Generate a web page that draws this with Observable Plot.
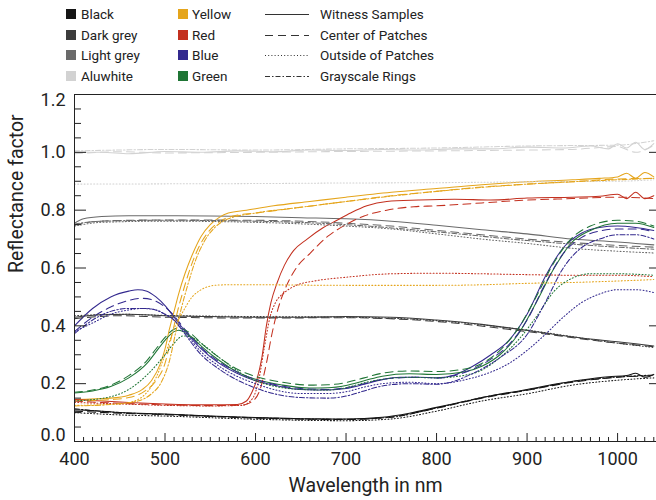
<!DOCTYPE html>
<html><head><meta charset="utf-8">
<script src="https://cdn.jsdelivr.net/npm/d3@7"></script>
<script src="https://cdn.jsdelivr.net/npm/@observablehq/plot@0.6"></script>
<style>
body{margin:0;background:#fff;font-family:Roboto,sans-serif;}
#legend{position:relative;width:656px;height:88px;font-size:13.5px;color:#222;}
.item{position:absolute;height:20px;line-height:20px;white-space:nowrap;}
.sw{display:inline-block;position:absolute;left:0;top:5px;width:10px;height:10px;}
.lab{position:absolute;top:0;}
</style></head><body>
<div id="legend"></div><div id="chart"></div>
<script>
// ---- legend / categories ----
const colorNames = ["Black","Dark grey","Light grey","Aluwhite","Yellow","Red","Blue","Green"];
const colorValues = ["#151515","#3c3c3c","#6a6a6a","#d2d2d2","#e5a51c","#c3301f","#33298e","#1f7535"];
const styleNames = ["Witness Samples","Center of Patches","Outside of Patches","Grayscale Rings"];
const styleDash = [null,"8,5","1,2.2","5,2,1.5,2"];

// ---- axis ticks ----
const xMajor = [400,500,600,700,800,900,1000];
const xMinor = d3.range(410,1041,10).filter(v => v % 100 !== 0);
const yMajor = [0,0.2,0.4,0.6,0.8,1.0,1.2];
const yMinor = [0.05,0.1,0.15,0.25,0.3,0.35,0.45,0.5,0.55,0.65,0.7,0.75,0.85,0.9,0.95,1.05,1.1,1.15];

// ---- series values: [wavelength nm, reflectance] ----
const blackWS = [[400,.11],[420,.107],[450,.10],[500,.095],[550,.088],[600,.083],[650,.079],[700,.078],[740,.084],[770,.098],[800,.118],[830,.138],[860,.158],[900,.18],[930,.198],[960,.213],[990,.224],[1010,.228],[1020,.236],[1030,.222],[1040,.232]];
const blackCP = [[400,.105],[450,.098],[500,.093],[600,.081],[700,.076],[750,.085],[800,.115],[850,.15],[900,.177],[950,.205],[1000,.222],[1040,.228]];
const blackOP = [[400,.10],[450,.092],[500,.088],[600,.077],[700,.072],[750,.078],[800,.105],[850,.14],[900,.165],[950,.195],[1000,.212],[1040,.22]];
const blackGR = [[400,.113],[450,.10],[500,.094],[600,.082],[700,.077],[750,.084],[800,.116],[850,.152],[900,.178],[950,.207],[1000,.223],[1040,.23]];

const dgreyWS = [[400,.43],[430,.438],[460,.44],[500,.435],[550,.432],[600,.43],[650,.43],[700,.432],[750,.43],[800,.42],[850,.405],[880,.393],[920,.375],[960,.358],[1000,.345],[1020,.338],[1040,.33]];
const dgreyCP = [[400,.425],[450,.435],[500,.43],[600,.427],[700,.428],[800,.415],[900,.38],[1000,.34],[1040,.328]];
const dgreyOP = [[400,.435],[450,.44],[500,.436],[600,.432],[700,.43],[800,.418],[900,.385],[1000,.34],[1040,.325]];

const lgreyWS = [[400,.755],[410,.77],[430,.778],[460,.781],[500,.781],[550,.78],[600,.778],[650,.774],[700,.77],[750,.762],[800,.748],[850,.732],[900,.718],[950,.70],[1000,.69],[1020,.685],[1040,.68]];
const lgreyCP = [[400,.748],[420,.76],[460,.765],[500,.766],[600,.765],[700,.755],[750,.745],[800,.73],[850,.715],[900,.70],[950,.688],[1000,.678],[1040,.672]];
const lgreyOP = [[400,.745],[430,.758],[500,.762],[600,.758],[700,.745],[750,.735],[800,.718],[850,.70],[900,.685],[950,.668],[1000,.658],[1040,.652]];
const lgreyGR = [[400,.752],[430,.762],[500,.765],[600,.762],[700,.75],[800,.725],[900,.695],[1000,.672],[1040,.665]];

const aluWS = [[400,1.0],[430,1.0],[460,.995],[500,1.003],[540,1.0],[580,1.005],[620,1.002],[660,1.008],[700,1.006],[740,1.01],[780,1.008],[820,1.012],[860,1.012],[900,1.018],[940,1.015],[970,1.022],[990,1.012],[1000,1.03],[1010,1.015],[1020,1.035],[1030,1.01],[1040,1.03]];
const aluCP = [[400,.995],[450,1.002],[500,.998],[600,1.0],[700,1.003],[800,1.005],[900,1.008],[950,1.01],[1000,1.02],[1020,1.0],[1040,1.025]];
const aluOP = [[400,.89],[500,.891],[600,.892],[700,.894],[800,.895],[900,.898],[1000,.90],[1040,.905]];
const aluGR = [[400,1.005],[450,1.008],[500,1.01],[600,1.008],[700,1.012],[800,1.015],[900,1.022],[1000,1.025],[1040,1.04]];

const yellowWS = [[400,.145],[440,.15],[460,.16],[475,.18],[485,.21],[495,.27],[500,.32],[505,.39],[510,.45],[515,.51],[522,.58],[530,.645],[540,.71],[550,.75],[560,.775],[570,.79],[590,.80],[620,.815],[660,.83],[700,.845],[750,.862],[800,.875],[850,.888],[900,.898],[950,.905],[980,.91],[1000,.915],[1010,.928],[1020,.91],[1030,.93],[1040,.915]];
const yellowCP = [[400,.14],[440,.145],[460,.152],[478,.175],[490,.21],[500,.27],[507,.36],[513,.44],[520,.52],[528,.6],[537,.67],[548,.725],[560,.76],[575,.78],[600,.79],[650,.81],[700,.83],[750,.85],[800,.865],[850,.88],[900,.89],[950,.898],[1000,.908],[1040,.91]];
const yellowOP = [[400,.125],[450,.13],[470,.145],[490,.22],[500,.3],[510,.39],[520,.45],[530,.5],[540,.525],[555,.54],[570,.542],[600,.542],[700,.54],[800,.54],[850,.542],[900,.547],[950,.55],[1000,.555],[1040,.56]];
const yellowGR = [[400,.123],[440,.128],[470,.14],[485,.165],[495,.2],[505,.28],[512,.38],[518,.46],[525,.54],[533,.62],[543,.69],[555,.74],[570,.77],[600,.79],[650,.81],[700,.83],[800,.865],[900,.89],[1000,.905],[1040,.91]];

const redWS = [[400,.145],[430,.14],[460,.135],[500,.13],[550,.127],[580,.128],[590,.14],[596,.17],[602,.22],[607,.29],[612,.4],[617,.48],[624,.55],[632,.61],[642,.66],[657,.70],[675,.74],[690,.765],[705,.79],[723,.815],[745,.83],[780,.835],[820,.838],[860,.835],[900,.842],[950,.845],[980,.848],[1000,.855],[1010,.84],[1020,.862],[1030,.84],[1040,.85]];
const redCP = [[400,.14],[450,.132],[500,.127],[550,.124],[585,.126],[597,.14],[605,.18],[612,.27],[618,.37],[625,.46],[633,.53],[645,.6],[660,.65],[680,.71],[700,.75],[720,.78],[745,.8],[775,.812],[800,.815],[850,.825],[900,.835],[950,.84],[1000,.845],[1040,.84]];
const redOP = [[400,.135],[450,.13],[500,.125],[550,.123],[585,.125],[597,.15],[604,.22],[610,.33],[616,.43],[622,.48],[632,.515],[645,.54],[665,.555],[700,.568],[750,.58],[800,.582],[850,.58],[900,.577],[950,.575],[1000,.575],[1040,.57]];

const blueWS = [[400,.40],[420,.46],[440,.50],[460,.52],[470,.525],[480,.52],[490,.50],[500,.47],[510,.43],[520,.39],[540,.32],[560,.27],[580,.235],[600,.21],[620,.195],[650,.18],[680,.178],[700,.183],[720,.198],[740,.214],[760,.222],[780,.222],[800,.22],[820,.23],[840,.26],[860,.30],[880,.35],[900,.44],[920,.57],[940,.67],[960,.72],[980,.74],[1000,.745],[1020,.74],[1040,.73]];
const blueCP = [[400,.38],[420,.43],[440,.465],[460,.488],[475,.495],[490,.485],[500,.465],[510,.435],[520,.395],[540,.325],[560,.275],[580,.24],[600,.215],[620,.198],[650,.183],[680,.18],[700,.186],[720,.2],[740,.215],[780,.222],[800,.22],[820,.228],[840,.25],[860,.285],[880,.335],[900,.42],[920,.545],[940,.65],[960,.705],[980,.728],[1000,.735],[1020,.735],[1040,.725]];
const blueOP = [[400,.38],[420,.41],[440,.44],[460,.455],[475,.46],[490,.455],[500,.44],[510,.42],[520,.385],[540,.31],[560,.26],[600,.20],[650,.166],[680,.166],[700,.172],[720,.188],[740,.2],[770,.205],[800,.20],[840,.22],[860,.24],[880,.27],[900,.315],[920,.37],[940,.43],[960,.48],[980,.51],[1000,.525],[1020,.525],[1040,.515]];
const blueGR = [[400,.373],[420,.42],[440,.45],[460,.46],[480,.46],[500,.44],[510,.42],[520,.38],[540,.30],[560,.25],[600,.185],[650,.152],[680,.15],[700,.157],[720,.175],[740,.192],[770,.2],[800,.198],[840,.235],[870,.29],[900,.37],[920,.48],[940,.60],[960,.67],[980,.70],[1000,.715],[1020,.715],[1040,.70]];

const greenWS = [[400,.168],[420,.175],[440,.19],[460,.22],[480,.27],[490,.31],[500,.35],[510,.38],[515,.385],[520,.38],[530,.36],[540,.33],[560,.28],[580,.24],[600,.215],[630,.195],[660,.185],[680,.186],[700,.194],[720,.21],[740,.226],[770,.234],[800,.232],[830,.24],[850,.26],[870,.30],[890,.37],[910,.48],[930,.60],[950,.69],[970,.73],[1000,.755],[1020,.755],[1040,.74]];
const greenCP = [[400,.17],[420,.178],[440,.195],[460,.228],[480,.28],[490,.32],[500,.36],[510,.388],[515,.392],[520,.388],[530,.37],[540,.34],[560,.29],[580,.25],[600,.225],[630,.205],[660,.195],[680,.196],[700,.204],[720,.22],[740,.236],[770,.244],[800,.242],[830,.25],[850,.27],[870,.315],[890,.39],[910,.50],[930,.62],[950,.705],[970,.745],[1000,.765],[1020,.762],[1040,.745]];
const greenOP = [[400,.14],[440,.155],[460,.18],[480,.23],[500,.30],[510,.34],[520,.365],[530,.36],[540,.34],[560,.29],[600,.21],[650,.18],[680,.178],[700,.186],[720,.203],[740,.215],[770,.222],[800,.22],[840,.235],[870,.29],[890,.35],[910,.43],[930,.52],[950,.565],[970,.58],[1000,.58],[1040,.575]];

const seriesList = [
  ["Black",0,blackWS],["Black",1,blackCP],["Black",2,blackOP],["Black",3,blackGR],
  ["Dark grey",0,dgreyWS],["Dark grey",1,dgreyCP],["Dark grey",2,dgreyOP],
  ["Light grey",0,lgreyWS],["Light grey",1,lgreyCP],["Light grey",2,lgreyOP],["Light grey",3,lgreyGR],
  ["Aluwhite",0,aluWS],["Aluwhite",1,aluCP],["Aluwhite",2,aluOP],["Aluwhite",3,aluGR],
  ["Yellow",0,yellowWS],["Yellow",1,yellowCP],["Yellow",2,yellowOP],["Yellow",3,yellowGR],
  ["Red",0,redWS],["Red",1,redCP],["Red",2,redOP],
  ["Blue",0,blueWS],["Blue",1,blueCP],["Blue",2,blueOP],["Blue",3,blueGR],
  ["Green",0,greenWS],["Green",1,greenCP],["Green",2,greenOP]
];

const rows = seriesList.flatMap(([c, s, pts], i) => pts.map(([w, v]) => ({w, v, c, s, id: i})));

// ---- legend (HTML) ----
const leg = document.getElementById("legend");
const colX = [66, 178];
colorNames.forEach((n, i) => {
  const col = Math.floor(i / 4), row = i % 4;
  const d = document.createElement("div");
  d.className = "item";
  d.style.left = colX[col] + "px";
  d.style.top = (4 + row * 20.7) + "px";
  d.innerHTML = `<span class="sw" style="background:${colorValues[i]}"></span><span class="lab" style="left:${col ? 14 : 15}px">${n}</span>`;
  leg.appendChild(d);
});
styleNames.forEach((n, i) => {
  const d = document.createElement("div");
  d.className = "item";
  d.style.left = "265px";
  d.style.top = (4 + i * 20.7) + "px";
  d.innerHTML = `<svg width="46" height="20" style="position:absolute;left:0;top:0"><line x1="0" x2="44" y1="10.5" y2="10.5" stroke="#333" stroke-width="1" ${styleDash[i] ? `stroke-dasharray="${styleDash[i]}"` : ""}/></svg><span class="lab" style="left:55px">${n}</span>`;
  leg.appendChild(d);
});

// ---- chart ----
const fs = 18;
const chart = Plot.plot({
  width: 656, height: 412,
  marginTop: 6, marginBottom: 59, marginLeft: 74, marginRight: 0,
  style: {fontFamily: "Roboto, sans-serif", color: "#222", background: "#fff", overflow: "visible"},
  x: {domain: [400, 1043]},
  y: {domain: [0, 1.2]},
  color: {domain: colorNames, range: colorValues},
  marks: [
    ...styleDash.map((dash, s) => Plot.line(rows.filter(r => r.s === s), {
      x: "w", y: "v", z: "id", stroke: "c", strokeWidth: 1.05, curve: "monotone-x",
      strokeDasharray: dash ?? undefined
    })),
    Plot.frame({anchor: "left", stroke: "#222"}),
    Plot.frame({anchor: "top", stroke: "#222"}),
    Plot.frame({anchor: "bottom", stroke: "#222"}),
    Plot.axisX(xMinor, {tickSize: -4, tickFormat: () => "", label: null}),
    Plot.axisX(xMajor, {tickSize: -8, tickFormat: () => "", label: null}),
    Plot.axisX(xMajor, {tickSize: 0, tickPadding: 11, fontSize: fs, tickFormat: d => String(d), label: null}),
    Plot.axisY(yMinor, {tickSize: -7, tickFormat: () => "", label: null}),
    Plot.axisY(yMajor, {tickSize: -12, tickFormat: () => "", label: null}),
    Plot.axisY(yMajor, {anchor: "right", tickSize: -8, tickFormat: () => "", label: null}),
    Plot.axisY([0.2,0.4,0.6,0.8,1.0], {tickSize: 0, tickPadding: 9, fontSize: fs, tickFormat: ".1f", label: null}),
    Plot.axisY([1.2], {tickSize: 0, tickPadding: 9, fontSize: fs, tickFormat: ".1f", label: null, dy: 6}),
    Plot.axisY([0], {tickSize: 0, tickPadding: 9, fontSize: fs, tickFormat: ".1f", label: null, dy: -6}),
    Plot.text(["Wavelength in nm"], {text: d => d, frameAnchor: "bottom", dy: 50, fontSize: 19.5, fill: "#222"}),
    Plot.text(["Reflectance factor"], {text: d => d, frameAnchor: "left", rotate: -90, dx: -58, dy: 5, fontSize: 19.5, fill: "#222"})
  ]
});
document.getElementById("chart").appendChild(chart);
</script>
</body></html>
